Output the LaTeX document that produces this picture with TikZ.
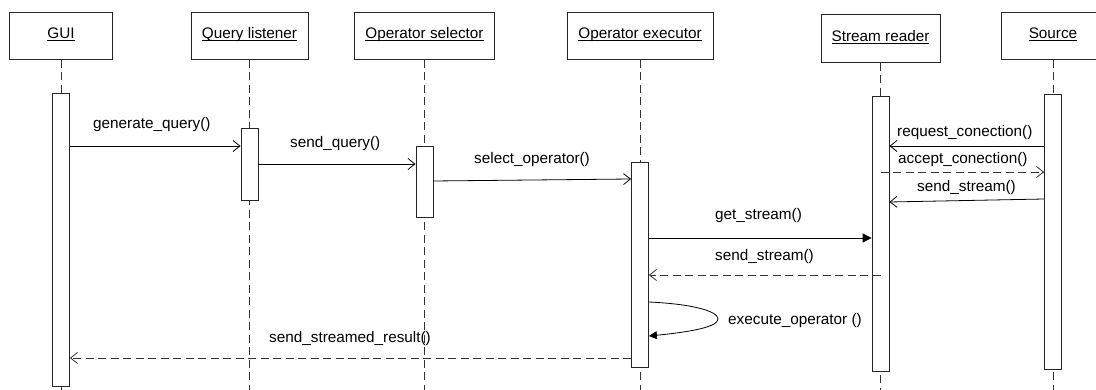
\documentclass[tikz,border=0pt]{standalone}
\usepackage{fontspec}
\setmainfont{Liberation Sans}
\usetikzlibrary{arrows.meta}

\tikzset{
  every node/.style={font=\fontsize{15.3}{18}\selectfont},
  headbox/.style={draw=black!85, line width=0.8pt, fill=white, minimum height=47.5pt,
    inner sep=0pt, text height=11pt, text depth=5pt},
  lifeline/.style={draw=black!80, line width=0.8pt, dash pattern=on 8pt off 4.5pt},
  actbar/.style={draw=black!85, line width=0.8pt, fill=white, minimum width=17pt, inner sep=0pt},
  call/.style={draw=black, line width=0.8pt, -{Straight Barb[length=7pt,width=11pt]}},
  reply/.style={draw=black!80, line width=0.8pt, dash pattern=on 8pt off 4.5pt,
    -{Straight Barb[length=7pt,width=11pt]}},
  synccall/.style={draw=black, line width=0.8pt, -{Triangle[length=9pt,width=9pt]}},
  msglabel/.style={anchor=base west, inner sep=0pt}
}
\newcommand{\headtitle}[1]{\underline{\smash{#1}}}

\begin{document}
\begin{tikzpicture}[x=1pt,y=-1pt]
\useasboundingbox (0,0) rectangle (1096,390);

% object headers
\node[headbox, minimum width=103pt] (gui) at (61,35.7)    {\headtitle{GUI}};
\node[headbox, minimum width=117pt] (ql)  at (249.5,35.7) {\headtitle{Query listener}};
\node[headbox, minimum width=140pt] (os)  at (424.5,35.7) {\headtitle{Operator selector}};
\node[headbox, minimum width=146pt] (oe)  at (640,35.7)   {\headtitle{Operator executor}};
\node[headbox, minimum width=119pt] (sr)  at (880.5,38.5) {\headtitle{Stream reader}};
\node[headbox, minimum width=104pt] (src) at (1053,35.7)  {\headtitle{Source}};

% lifelines
\coordinate (guiend) at (61,390);
\coordinate (qlend)  at (249.5,390);
\coordinate (osend)  at (424.5,390);
\coordinate (oeend)  at (640,390);
\coordinate (srend)  at (880.5,390);
\coordinate (srcend) at (1053,390);
\draw[lifeline] (gui.south) -- (guiend);
\draw[lifeline] (ql.south)  -- (qlend);
\draw[lifeline] (os.south)  -- (osend);
\draw[lifeline] (oe.south)  -- (oeend);
\draw[lifeline] (sr.south)  -- (srend);
\draw[lifeline] (src.south) -- (srcend);

% activation bars
\node[actbar, minimum height=293pt] (guib) at (61,239.5)   {};
\node[actbar, minimum height=72pt]  (qlb)  at (249.5,164)  {};
\node[actbar, minimum height=71pt]  (osb)  at (424.5,181.5) {};
\node[actbar, minimum height=205pt] (oeb)  at (640,264.5)  {};
\node[actbar, minimum height=275pt] (srb)  at (880.5,233.5) {};
\node[actbar, minimum height=275pt] (srcb) at (1053,231.5) {};

% messages
\draw[call] (guib.east |- 0,146) -- (qlb.west |- 0,146);
\node[msglabel] (l1) at (93,129) {generate\_query()};

\draw[call] (qlb.east |- 0,164) -- (osb.west |- 0,164);
\node[msglabel] (l2) at (290,148) {send\_query()};

\draw[call] (osb.east |- 0,181) -- (oeb.west |- 0,179);
\node[msglabel] (l3) at (474,164) {select\_operator()};

\draw[call] (srcb.west |- 0,146) -- (srb.east |- 0,146);
\node[msglabel] (l4) at (897,137) {request\_conection()};

\draw[reply] (srb.center |- 0,172) -- (srcb.west |- 0,172);
\node[msglabel] (l5) at (898,164) {accept\_conection()};

\draw[call] (srcb.west |- 0,199) -- (srb.east |- 0,202);
\node[msglabel] (l6) at (917,192) {send\_stream()};

\draw[synccall] (oeb.east |- 0,238) -- (srb.west |- 0,238);
\node[msglabel] (l7) at (715,220) {get\_stream()};

\draw[reply] (srb.center |- 0,275) -- (oeb.east |- 0,275);
\node[msglabel] (l8) at (715,261) {send\_stream()};

% self call on the executor
\coordinate (selftip) at (718,319);
\draw[draw=black, line width=0.8pt, -{Triangle[length=8pt,width=8pt]}]
  (oeb.east |- 0,302) .. controls (692,304) and (718,311) .. (selftip)
  .. controls (718,327) and (690,332) .. (oeb.east |- 0,336);
\node[msglabel] (l9) at (728,324) {execute\_operator ()};

\draw[reply] (oeb.west |- 0,358) -- (guib.east |- 0,358);
\node[msglabel] (l10) at (269,342) {send\_streamed\_result()};
\end{tikzpicture}
\end{document}
